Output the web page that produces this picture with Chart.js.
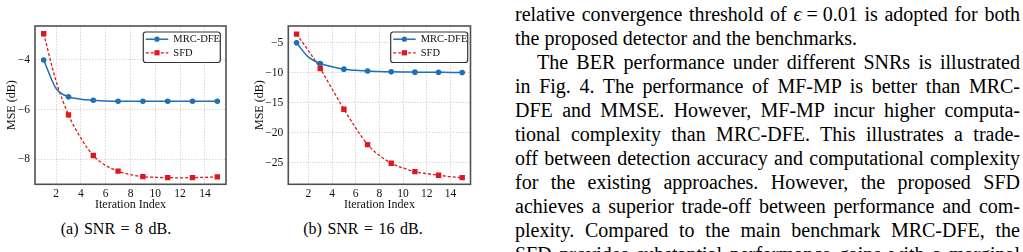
<!DOCTYPE html>
<html>
<head>
<meta charset="utf-8">
<script src="https://cdn.jsdelivr.net/npm/chart.js@4.4.0/dist/chart.umd.min.js"></script>
<style>
  html, body { margin: 0; padding: 0; background: #fff; }
  #wrap { position: relative; width: 1023px; height: 252px; overflow: hidden; background: #fff; }
  canvas { position: absolute; top: 0; }
  .cap { position: absolute; top: 219px; width: 200px; text-align: center;
         font: 16px/20px "Liberation Serif", "DejaVu Serif", serif; color: #000; word-spacing: 1.5px; white-space: nowrap; }
  #txt { position: absolute; left: 515px; top: 2px; width: 505px;
         font: 20px/24px "Liberation Serif", "DejaVu Serif", serif; color: #000; }
  #txt .ln { height: 24px; white-space: nowrap; }
  #txt .ln span { display: inline-block; white-space: nowrap; }
</style>
</head>
<body>
<div id="wrap">
  <canvas id="chartA" width="240" height="215" style="left:0px;width:240px;height:215px"></canvas>
  <canvas id="chartB" width="240" height="215" style="left:245px;width:240px;height:215px"></canvas>
  <div class="cap" style="left:16px">(a) SNR = 8 dB.</div>
  <div class="cap" style="left:263px">(b) SNR = 16 dB.</div>
  <div id="txt">
    <div class="ln j"><span>relative convergence threshold of <i>ϵ</i>&#8197;=&#8197;0.01 is adopted for both</span></div>
    <div class="ln"><span>the proposed detector and the benchmarks.</span></div>
    <div class="ln j" data-indent="22"><span>The BER performance under different SNRs is illustrated</span></div>
    <div class="ln j"><span>in Fig. 4. The performance of MF-MP is better than MRC-</span></div>
    <div class="ln j"><span>DFE and MMSE. However, MF-MP incur higher computa-</span></div>
    <div class="ln j"><span>tional complexity than MRC-DFE. This illustrates a trade-</span></div>
    <div class="ln j"><span>off between detection accuracy and computational complexity</span></div>
    <div class="ln j"><span>for the existing approaches. However, the proposed SFD</span></div>
    <div class="ln j"><span>achieves a superior trade-off between performance and com-</span></div>
    <div class="ln j"><span>plexity. Compared to the main benchmark MRC-DFE, the</span></div>
    <div class="ln j"><span>SFD provides substantial performance gains with a marginal</span></div>
  </div>
</div>
<script>
// ---------------- data ----------------
const iterations = [1, 2, 3, 4, 5, 6, 7, 8, 9, 10, 11, 12, 13, 14, 15];
const seriesNames = ['MRC-DFE', 'SFD'];

// (a) SNR = 8 dB
const mrcDfeA = [-4.00, -5.15, -5.48, -5.58, -5.62, -5.65, -5.66, -5.66, -5.66, -5.66, -5.66, -5.66, -5.66, -5.66, -5.66];
const sfdA    = [-2.94, -4.85, -6.21, -7.15, -7.85, -8.25, -8.48, -8.62, -8.70, -8.73, -8.74, -8.75, -8.74, -8.73, -8.71];

// (b) SNR = 16 dB
const mrcDfeB = [-5.00, -7.40, -8.45, -9.00, -9.40, -9.60, -9.70, -9.80, -9.85, -9.88, -9.90, -9.92, -9.93, -9.94, -9.95];
const sfdB    = [-3.55, -6.30, -9.30, -12.70, -16.10, -19.20, -22.00, -23.80, -25.10, -25.90, -26.50, -26.85, -27.10, -27.35, -27.50];

// tick labels
const xTickValues  = [2, 4, 6, 8, 10, 12, 14];
const yTickValuesA = [-4, -6, -8];
const yTickValuesB = [-5, -10, -15, -20, -25];

const xTitle = 'Iteration Index';
const yTitle = 'MSE (dB)';

// ---------------- styling ----------------
const FONT = '"Liberation Serif", "DejaVu Serif", serif';
const BLUE = '#1f6fb8';
const RED = '#e0161c';
const TXT = '#111111';

const fmt = v => (v < 0 ? '\u2212' + Math.abs(v) : String(v));

const paperPlugin = {
  id: 'paperPlugin',
  afterDraw(chart, args, opts) {
    const ctx = chart.ctx, a = chart.chartArea;
    ctx.save();
    ctx.strokeStyle = '#505050';
    ctx.lineWidth = 1.6;
    ctx.strokeRect(a.left, a.top, a.right - a.left, a.bottom - a.top);
    const L = opts.legend;
    const r = 2.5;
    ctx.beginPath();
    ctx.moveTo(L.x + r, L.y);
    ctx.lineTo(L.x + L.w - r, L.y);
    ctx.arcTo(L.x + L.w, L.y, L.x + L.w, L.y + r, r);
    ctx.lineTo(L.x + L.w, L.y + L.h - r);
    ctx.arcTo(L.x + L.w, L.y + L.h, L.x + L.w - r, L.y + L.h, r);
    ctx.lineTo(L.x + r, L.y + L.h);
    ctx.arcTo(L.x, L.y + L.h, L.x, L.y + L.h - r, r);
    ctx.lineTo(L.x, L.y + r);
    ctx.arcTo(L.x, L.y, L.x + r, L.y, r);
    ctx.closePath();
    ctx.fillStyle = '#ffffff';
    ctx.fill();
    ctx.strokeStyle = '#333333';
    ctx.lineWidth = 1.2;
    ctx.stroke();
    chart.data.datasets.forEach((ds, i) => {
      const y = L.y + L.rows[i];
      ctx.save();
      ctx.strokeStyle = ds.borderColor;
      ctx.lineWidth = ds.borderWidth;
      ctx.setLineDash(ds.borderDash || []);
      ctx.beginPath();
      ctx.moveTo(L.x + 2.5, y);
      ctx.lineTo(L.x + 25, y);
      ctx.stroke();
      ctx.setLineDash([]);
      ctx.fillStyle = ds.borderColor;
      const mx = L.x + 13.7;
      if (ds.pointStyle === 'rect') {
        const s = ds.legendMarker;
        ctx.fillRect(mx - s / 2, y - s / 2, s, s);
      } else {
        ctx.beginPath();
        ctx.arc(mx, y, ds.legendMarker / 2, 0, Math.PI * 2);
        ctx.fill();
      }
      ctx.restore();
      ctx.fillStyle = TXT;
      ctx.font = '10.5px ' + FONT;
      ctx.textBaseline = 'middle';
      ctx.textAlign = 'left';
      ctx.fillText(ds.label, L.x + 30, y + 0.5);
    });
    ctx.restore();
  }
};

function makeChart(id, mrc, sfd, yTicks, yMin, yMax, geom) {
  const pts = arr => iterations.map((x, i) => ({ x: x, y: arr[i] }));
  const onOdd = r => ctx => (iterations[ctx.dataIndex] % 2 === 1 ? r : 0);
  return new Chart(document.getElementById(id), {
    type: 'line',
    data: {
      datasets: [
        {
          label: seriesNames[0], data: pts(mrc),
          borderColor: BLUE, backgroundColor: BLUE, borderWidth: 1.5,
          pointStyle: 'circle', pointRadius: onOdd(2.8), pointHoverRadius: 0,
          pointBackgroundColor: BLUE, pointBorderWidth: 0,
          cubicInterpolationMode: 'monotone', legendMarker: 5.2
        },
        {
          label: seriesNames[1], data: pts(sfd),
          borderColor: RED, backgroundColor: RED, borderWidth: 1.3, borderDash: [3, 2],
          pointStyle: 'rect', pointRadius: onOdd(3.8), pointHoverRadius: 0,
          pointBackgroundColor: RED, pointBorderWidth: 0,
          cubicInterpolationMode: 'monotone', legendMarker: 5.2
        }
      ]
    },
    options: {
      responsive: false, animation: false, devicePixelRatio: 1,
      events: [],
      layout: { padding: { left: 0, top: geom.top, right: geom.right, bottom: geom.bottom } },
      plugins: {
        legend: { display: false }, tooltip: { enabled: false },
        paperPlugin: { legend: geom.legend }
      },
      scales: {
        x: {
          type: 'linear', min: 0.3, max: 15.7,
          afterBuildTicks: s => { s.ticks = xTickValues.map(v => ({ value: v })); },
          afterFit: s => { s.height = geom.xAxisH; },
          grid: { color: '#cccccc', lineWidth: 0.8, drawTicks: false },
          border: { display: false, dash: [1.5, 1.5] },
          ticks: { color: TXT, font: { family: FONT, size: 11.5 }, padding: 2.3, maxRotation: 0, autoSkip: false, callback: v => fmt(v) },
          title: { display: true, text: xTitle, color: TXT, font: { family: FONT, size: 12 }, padding: { top: 0, bottom: 0 } }
        },
        y: {
          type: 'linear', min: yMin, max: yMax,
          afterBuildTicks: s => { s.ticks = yTicks.map(v => ({ value: v })); },
          afterFit: s => { s.width = geom.yAxisW; },
          grid: { color: '#cccccc', lineWidth: 0.8, drawTicks: false },
          border: { display: false, dash: [1.5, 1.5] },
          ticks: { color: TXT, font: { family: FONT, size: 11.5 }, padding: 5, autoSkip: false, callback: v => fmt(v) },
          title: { display: true, text: yTitle, color: TXT, font: { family: FONT, size: 12 }, padding: { top: geom.yTitlePad, bottom: 0 } }
        }
      }
    },
    plugins: [paperPlugin]
  });
}

makeChart('chartA', mrcDfeA, sfdA, yTickValuesA, -9.01, -2.63, {
  top: 26, right: 14, bottom: 3.4, xAxisH: 27.3, yAxisW: 35, yTitlePad: 4.6,
  legend: { x: 143.3, y: 32, w: 77, h: 30.5, rows: [7.2, 20.8] }
});
makeChart('chartB', mrcDfeB, sfdB, yTickValuesB, -28.62, -2.2, {
  top: 26, right: 14.5, bottom: 3.4, xAxisH: 27.3, yAxisW: 43.3, yTitlePad: 7.6,
  legend: { x: 390.7 - 245, y: 32, w: 77, h: 30.5, rows: [7.2, 20.8] }
});

// ---------------- justified paragraph lines ----------------
const TEXT_W = 505;
document.querySelectorAll('#txt .ln').forEach(el => {
  const sp = el.firstElementChild;
  const indent = parseFloat(el.dataset.indent || '0');
  if (indent) el.style.paddingLeft = indent + 'px';
  if (!el.classList.contains('j')) return;
  const n = (sp.textContent.match(/ /g) || []).length;
  const w = sp.getBoundingClientRect().width;
  if (n > 0) sp.style.wordSpacing = ((TEXT_W - indent - w) / n) + 'px';
});
</script>
</body>
</html>
